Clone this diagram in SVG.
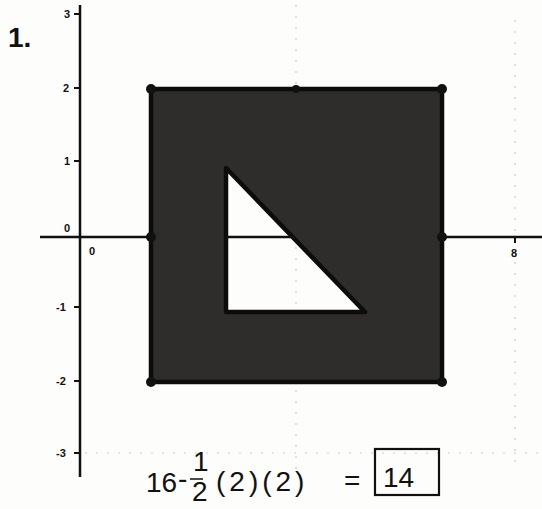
<svg xmlns="http://www.w3.org/2000/svg" width="542" height="509" viewBox="0 0 542 509">
<style>
.lbl{font-family:"Liberation Sans",Arial,sans-serif;font-weight:bold;font-size:11px;fill:#111}
.hw{font-family:"Liberation Sans",Arial,sans-serif;font-size:28px;fill:#111}
.axis{stroke:#111;stroke-width:2.5;fill:none}
.tick{stroke:#111;stroke-width:2}
.grid{stroke:#ccc;stroke-width:1.2;stroke-dasharray:2 9;fill:none}
.dot{fill:#111}
</style>
<rect width="542" height="509" fill="#fdfdfb"/>
<g id="grid">
<line class="grid" x1="296" y1="5" x2="296" y2="470"/>
<line class="grid" x1="515" y1="20" x2="515" y2="470"/>
<line class="grid" x1="85" y1="453" x2="540" y2="453"/>
</g>
<g id="title"><text x="8" y="47" font-family="Liberation Sans,Arial,sans-serif" font-weight="bold" font-size="28" fill="#111">1.</text></g>
<g id="square">
<path d="M151,89 H442 V382 H151 Z M226,168 L365,312 H226 Z" fill="#2f2d2b" fill-rule="evenodd" stroke="#0c0c0c" stroke-width="4.5" stroke-linejoin="round"/>
</g>
<g id="axes">
<line class="axis" x1="80" y1="5" x2="80" y2="477"/>
<line class="axis" x1="40" y1="237" x2="151" y2="237"/>
<line class="axis" x1="226" y1="237" x2="295" y2="237"/>
<line class="axis" x1="442" y1="237" x2="542" y2="237"/>
<line class="tick" x1="74" y1="14" x2="80" y2="14"/>
<line class="tick" x1="74" y1="88" x2="80" y2="88"/>
<line class="tick" x1="74" y1="161" x2="80" y2="161"/>
<line class="tick" x1="74" y1="307" x2="80" y2="307"/>
<line class="tick" x1="74" y1="381" x2="80" y2="381"/>
<line class="tick" x1="74" y1="453" x2="80" y2="453"/>
<line class="tick" x1="515" y1="237" x2="515" y2="243"/>
</g>
<g id="labels">
<text class="lbl" x="64" y="18">3</text>
<text class="lbl" x="63" y="92">2</text>
<text class="lbl" x="64" y="165">1</text>
<text class="lbl" x="64" y="232">0</text>
<text class="lbl" x="89" y="255">0</text>
<text class="lbl" x="56" y="311">-1</text>
<text class="lbl" x="56" y="385">-2</text>
<text class="lbl" x="56" y="457">-3</text>
<text class="lbl" x="511" y="257">8</text>
</g>
<g id="points">
<circle class="dot" cx="151" cy="89" r="5"/>
<circle class="dot" cx="296" cy="89" r="4"/>
<circle class="dot" cx="442" cy="89" r="5"/>
<circle class="dot" cx="151" cy="237" r="5"/>
<circle class="dot" cx="442" cy="237" r="5"/>
<circle class="dot" cx="151" cy="382" r="5"/>
<circle class="dot" cx="442" cy="382" r="5"/>
</g>
<g id="formula">
<text class="hw" x="146" y="492" font-size="26">16</text>
<text class="hw" x="178" y="488" font-size="26">-</text>
<text class="hw" font-size="13"><tspan x="193" y="471">1</tspan><tspan x="192" y="501">2</tspan></text>
<line x1="190" y1="479" x2="203" y2="479" stroke="#111" stroke-width="1.5"/>
<text class="hw" x="216" y="491" font-size="31" letter-spacing="4">(2)(2)</text>
<text class="hw" x="344" y="490">=</text>
<rect x="375" y="449" width="64" height="46" fill="none" stroke="#111" stroke-width="2.2"/>
<text class="hw" x="383" y="487" font-size="32">14</text>
</g>
</svg>
